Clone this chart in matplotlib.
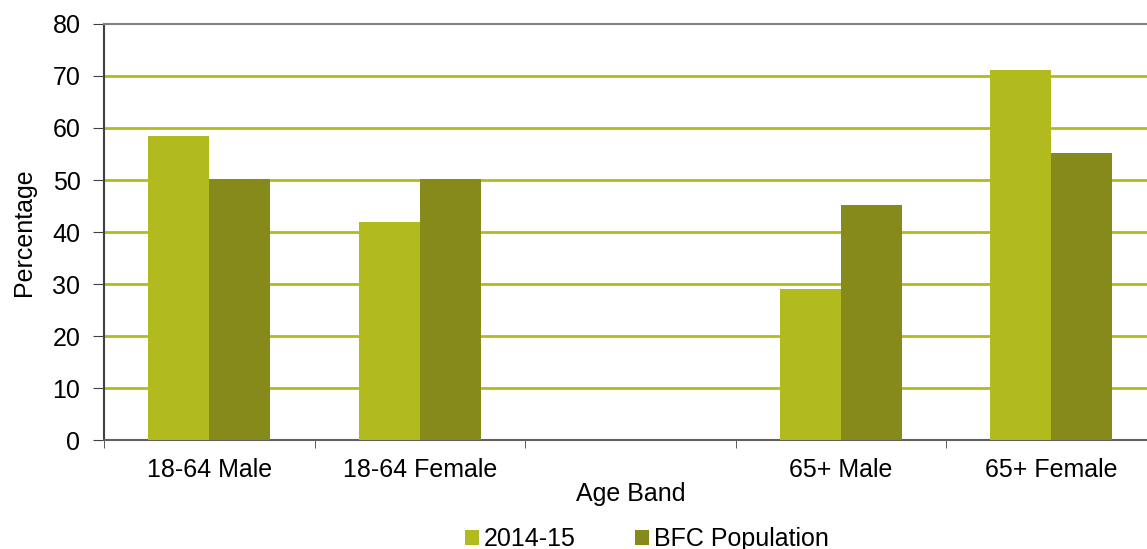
import matplotlib.pyplot as plt
import numpy as np

# datos
categorias = ['18-64 Male', '18-64 Female', '', '65+ Male', '65+ Female']
serie_2014 = [58.5, 41.9, np.nan, 29.0, 71.2]
serie_bfc = [50.1, 50.1, np.nan, 45.2, 55.1]
nombres = ['2014-15', 'BFC Population']

plt.rcParams['font.family'] = ['Liberation Sans', 'DejaVu Sans']

fig = plt.figure(figsize=(11.47, 5.49), dpi=100)
ax = fig.add_axes([0.0907, 0.1985, 0.9176, 0.7578])

x = np.arange(len(categorias))
ancho = 0.29
ax.bar(x - ancho / 2, serie_2014, ancho, color='#B2BB1E', label=nombres[0], zorder=3)
ax.bar(x + ancho / 2, serie_bfc, ancho, color='#868A1A', label=nombres[1], zorder=3)

ax.set_xlim(-0.5, len(categorias) - 0.5)
ax.set_ylim(0, 80)
ax.set_yticks(np.arange(0, 81, 10))
ax.set_xticks(x)
ax.set_xticklabels(categorias)
ax.set_xticks(np.arange(-0.5, len(categorias), 1), minor=True)
ax.tick_params(axis='x', which='major', length=0, pad=13, labelsize=18)
ax.tick_params(axis='x', which='minor', length=6, color='#404040', direction='out')
ax.tick_params(axis='y', length=8, color='#404040', labelsize=18, pad=9)

# lineas de cuadricula verdes
for v in range(10, 80, 10):
    ax.axhline(v, color='#B2BB1E', lw=2, zorder=1)

ax.spines['right'].set_visible(False)
ax.spines['top'].set_color('#808080')
ax.spines['top'].set_linewidth(1.5)
ax.spines['left'].set_color('#404040')
ax.spines['left'].set_linewidth(1.5)
ax.spines['bottom'].set_color('#606060')
ax.spines['bottom'].set_linewidth(1.5)

ax.set_xlabel('Age Band', fontsize=18, labelpad=0)
ax.set_ylabel('Percentage', fontsize=18, labelpad=12)

fig.legend(loc='center', bbox_to_anchor=(0.564, 0.018), ncol=2, frameon=False,
           fontsize=18, handlelength=0.55, handleheight=0.55, handletextpad=0.2,
           columnspacing=2.4, borderpad=0)

fig.savefig('out.png', dpi=100)
